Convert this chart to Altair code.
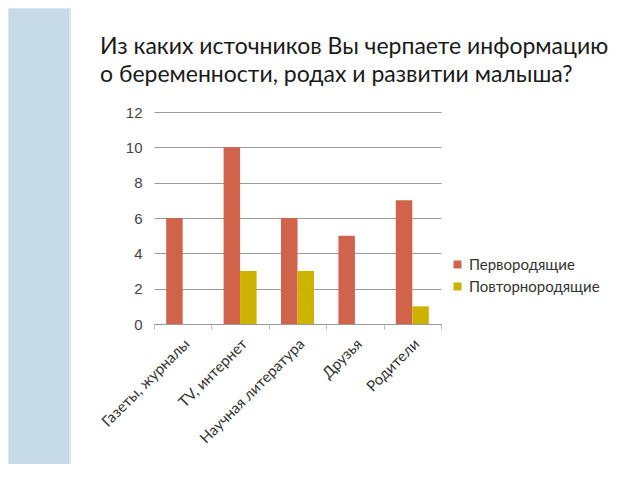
import altair as alt
import pandas as pd

categories = ["Газеты, журналы", "TV, интернет", "Научная литература", "Друзья", "Родители"]
series_names = ["Первородящие", "Повторнородящие"]
first_birth = [6, 10, 6, 5, 7]
repeat_birth = [0, 3, 3, 0, 1]
colors = ["#D1634A", "#CDB300"]
y_ticks = [0, 2, 4, 6, 8, 10, 12]
title_lines = ["Из каких источников Вы черпаете информацию",
               "о беременности, родах и развитии малыша?"]

rows = []
for i, c in enumerate(categories):
    rows.append({"cat": c, "series": series_names[0], "value": first_birth[i]})
    rows.append({"cat": c, "series": series_names[1], "value": repeat_birth[i]})
df = pd.DataFrame(rows)

one = pd.DataFrame({"a": [0]})

stripe = alt.Chart(one).mark_rect(
    color="#C7DAE7", stroke="#D8E6EF", strokeWidth=2
).encode(
    x=alt.value(-146), x2=alt.value(-84), y=alt.value(-104), y2=alt.value(370)
)

title = alt.Chart(one).mark_text(
    text=title_lines, align="left", baseline="alphabetic", font="Lato",
    fontSize=23, color="#1A1A1A", lineHeight=28
).encode(x=alt.value(-54), y=alt.value(-58))

bars = alt.Chart(df).mark_bar().encode(
    x=alt.X("cat:N", sort=categories, title=None,
            scale=alt.Scale(paddingInner=0, paddingOuter=0),
            axis=alt.Axis(labelAngle=-45, labelFont="Lato", labelFontSize=15,
                          labelColor="#333333", labelPadding=7, labelOffset=-1,
                          domain=False, ticks=True, tickBand="extent",
                          tickColor="#BBBBBB", tickSize=5, grid=False, labelLimit=300)),
    xOffset=alt.XOffset("series:N", sort=series_names,
                        scale=alt.Scale(paddingOuter=0.74, paddingInner=0)),
    y=alt.Y("value:Q", title=None,
            scale=alt.Scale(domain=[0, 12]),
            axis=alt.Axis(values=y_ticks, labelFont="Liberation Sans", labelFontSize=15,
                          labelColor="#444444", domain=False, ticks=False,
                          labelPadding=12, gridColor="#9A9A9A", gridWidth=1)),
    color=alt.Color("series:N", sort=series_names,
                    scale=alt.Scale(domain=series_names, range=colors),
                    legend=alt.Legend(title=None, orient="none", legendX=296, legendY=145,
                                      symbolType="square", symbolSize=64,
                                      symbolStrokeWidth=0,
                                      labelFont="Lato", labelFontSize=15,
                                      labelColor="#333333", rowPadding=6)),
)

chart = alt.layer(stripe, title, bars).properties(
    width=287, height=212,
    autosize=alt.AutoSizeParams(type="none"),
    padding={"left": 146, "top": 104, "right": 190, "bottom": 140},
).configure_view(stroke=None)

chart.save("out.html", embed_options={"renderer": "svg", "actions": False})
